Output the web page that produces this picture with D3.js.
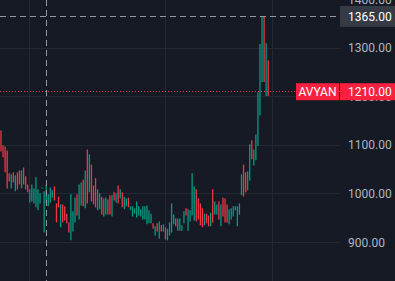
<!DOCTYPE html>
<html>
<head>
<meta charset="utf-8">
<script src="https://cdn.jsdelivr.net/npm/d3@7"></script>
<style>
  html, body { margin: 0; padding: 0; background: #161a25; overflow: hidden; }
  svg { display: block; }
</style>
</head>
<body>
<div id="chart"></div>
<script>
// bar highs / lows, oldest first
const highs = [
  1130, 1100, 1097, 1089, 1042, 1040, 1044, 1038, 1044, 1048,
  1048, 1054, 1036, 1019, 1009, 1019, 1011, 1034, 1009, 1001,
  1013, 1005, 1019, 999, 1013, 1007, 1015, 980, 994, 978,
  978, 974, 959, 941, 999, 964, 992, 999, 1019, 1023,
  1029, 1048, 1091, 1081, 1060, 1017, 1032, 1009, 1001, 994,
  990, 992, 988, 997, 997, 1003, 1001, 1017, 1009, 1003,
  994, 990, 992, 974, 974, 970, 984, 974, 968, 974,
  974, 976, 966, 959, 939, 933, 939, 943, 935, 937,
  931, 928, 941, 980, 957, 949, 949, 949, 935, 964,
  970, 968, 966, 1042, 1015, 1009, 990, 980, 970, 959,
  959, 955, 961, 1009, 984, 978, 984, 978, 992, 990,
  978, 968, 970, 974, 974, 974, 980, 1040, 1060, 1044,
  1046, 1102, 1110, 1091, 1122, 1209, 1308, 1365, 1365, 1310,
  1275
];
const lows = [
  1087, 1075, 1044, 1011, 1025, 1011, 1023, 1005, 1009, 1019,
  1011, 1019, 1009, 1003, 982, 984, 980, 972, 966, 980,
  1011, 920, 980, 974, 982, 992, 986, 941, 972, 931,
  941, 945, 939, 920, 904, 922, 941, 955, 947, 976,
  974, 970, 980, 1003, 984, 978, 972, 966, 968, 957,
  953, 957, 957, 957, 953, 986, 982, 980, 990, 972,
  968, 974, 972, 966, 953, 959, 951, 955, 953, 947,
  947, 937, 939, 939, 928, 914, 922, 908, 922, 922,
  906, 904, 914, 920, 937, 933, 924, 924, 924, 939,
  955, 924, 943, 955, 945, 943, 947, 935, 931, 935,
  939, 933, 933, 941, 957, 957, 947, 933, 953, 941,
  941, 937, 947, 953, 966, 933, 957, 997, 994, 1003,
  1007, 1027, 1071, 1058, 1069, 1098, 1161, 1230, 1230, 1201,
  1201
];
// u = close above open (teal), d = close below open (red)
const dirs = ("dddddududduddd" + "uuuuuuuuuuuu" + "ddd" + "u" + "dddd" + "uuu" + "d" + "uu" +
  "d" + "u" + "d" + "u" + "ddd" + "uu" + "d" + "uu" + "dd" + "u" + "d" + "u" + "d" + "u" + "d" +
  "uu" + "d" + "uuuuuuuuuuu" + "d" + "u" + "d" + "u" + "d" + "u" + "d" + "uuuu" + "d" + "uuuu" +
  "d" + "uuuu" + "dddd" + "u" + "dd" + "u" + "d" + "uu" + "d" + "u" + "ddd" + "uuuuuuu" + "dd" +
  "uu" + "d" + "uuuuu" + "d" + "u" + "d").split("");

const priceTicks = [900, 1000, 1100, 1200, 1300, 1400];
const timeGridBars = [14, 80, 132];   // month boundaries
const symbol = "AVYAN";
const lastPrice = 1210;
const crossPrice = 1365;
const crossBar = 22;

var W = 395, H = 281, plotW = 340;
var upColor = "#089981", downColor = "#f23645", labelRed = "#f7213f";

var data = highs.map(function(h, i) {
  return {i: i, high: h, low: lows[i], dir: dirs[i]};
});

var x = d3.scaleLinear().domain([0, 130]).range([1.0, 268.2]);
var y = d3.scaleLinear().domain([900, 1300]).range([242.3, 48]);
var fmt = d3.format(".2f");
var px = function(v) { return Math.floor(v) + 0.5; };

var svg = d3.select("#chart").append("svg")
    .attr("width", W)
    .attr("height", H)
    .style("font-family", "Roboto, 'Trebuchet MS', sans-serif");

svg.append("rect")
    .attr("width", W)
    .attr("height", H)
    .attr("fill", "#161a25");

// grid
svg.append("g").selectAll("line")
    .data(priceTicks)
  .enter().append("line")
    .attr("x1", 0)
    .attr("x2", plotW)
    .attr("y1", function(d) { return px(y(d)); })
    .attr("y2", function(d) { return px(y(d)); })
    .attr("stroke", "#232834")
    .attr("stroke-width", 1);

svg.append("g").selectAll("line")
    .data(timeGridBars)
  .enter().append("line")
    .attr("x1", function(d) { return px(x(d)); })
    .attr("x2", function(d) { return px(x(d)); })
    .attr("y1", 0)
    .attr("y2", H)
    .attr("stroke", "#232834")
    .attr("stroke-width", 1);

// bars (zoomed out, so each candle is a single high-low stroke)
svg.append("g").selectAll("line")
    .data(data)
  .enter().append("line")
    .attr("x1", function(d) { return x(d.i); })
    .attr("x2", function(d) { return x(d.i); })
    .attr("y1", function(d) { return y(d.high); })
    .attr("y2", function(d) { return Math.max(y(d.low), y(d.high) + 1); })
    .attr("stroke", function(d) { return d.dir == "u" ? upColor : downColor; })
    .attr("stroke-width", 1.3);

// last price line
svg.append("line")
    .attr("x1", 0)
    .attr("x2", plotW)
    .attr("y1", px(y(lastPrice)))
    .attr("y2", px(y(lastPrice)))
    .attr("stroke", downColor)
    .attr("stroke-width", 1)
    .attr("stroke-dasharray", "1,2");

// crosshair
svg.append("line")
    .attr("x1", 0)
    .attr("x2", plotW)
    .attr("y1", px(y(crossPrice)))
    .attr("y2", px(y(crossPrice)))
    .attr("stroke", "#9598a1")
    .attr("stroke-width", 1)
    .attr("stroke-dasharray", "6,4");

svg.append("line")
    .attr("x1", px(x(crossBar)))
    .attr("x2", px(x(crossBar)))
    .attr("y1", 0)
    .attr("y2", H)
    .attr("stroke", "#9598a1")
    .attr("stroke-width", 1)
    .attr("stroke-dasharray", "6,4");

// price axis
var axis = svg.append("g")
    .attr("transform", "translate(" + plotW + ",0)")
    .call(d3.axisRight(y).tickValues(priceTicks).tickFormat(fmt).tickSize(0).tickPadding(8));
axis.select(".domain").remove();
axis.selectAll("text")
    .attr("fill", "#b2b5be")
    .style("font-size", "12px")
    .style("font-family", "Roboto, 'Trebuchet MS', sans-serif");

// crosshair price label
var cy = y(crossPrice);
svg.append("rect")
    .attr("x", plotW)
    .attr("y", cy - 10.5)
    .attr("width", W - plotW)
    .attr("height", 21)
    .attr("fill", "#363a45");
svg.append("text")
    .attr("x", plotW + 8)
    .attr("y", cy)
    .attr("dy", "0.35em")
    .attr("fill", "#ffffff")
    .style("font-size", "12px")
    .text(fmt(crossPrice));

// symbol + last price labels
var ly = y(lastPrice);
svg.append("rect")
    .attr("x", 296)
    .attr("y", ly - 8.5)
    .attr("width", plotW - 1 - 296)
    .attr("height", 17)
    .attr("fill", labelRed);
svg.append("text")
    .attr("x", (296 + plotW - 1) / 2)
    .attr("y", ly)
    .attr("dy", "0.35em")
    .attr("text-anchor", "middle")
    .attr("fill", "#ffffff")
    .style("font-size", "12px")
    .text(symbol);

svg.append("rect")
    .attr("x", plotW)
    .attr("y", ly - 8.5)
    .attr("width", W - plotW)
    .attr("height", 17)
    .attr("fill", labelRed);
svg.append("text")
    .attr("x", plotW + 8)
    .attr("y", ly)
    .attr("dy", "0.35em")
    .attr("fill", "#ffffff")
    .style("font-size", "12px")
    .text(fmt(lastPrice));

console.log(highs.length, lows.length, dirs.length);
</script>
</body>
</html>
